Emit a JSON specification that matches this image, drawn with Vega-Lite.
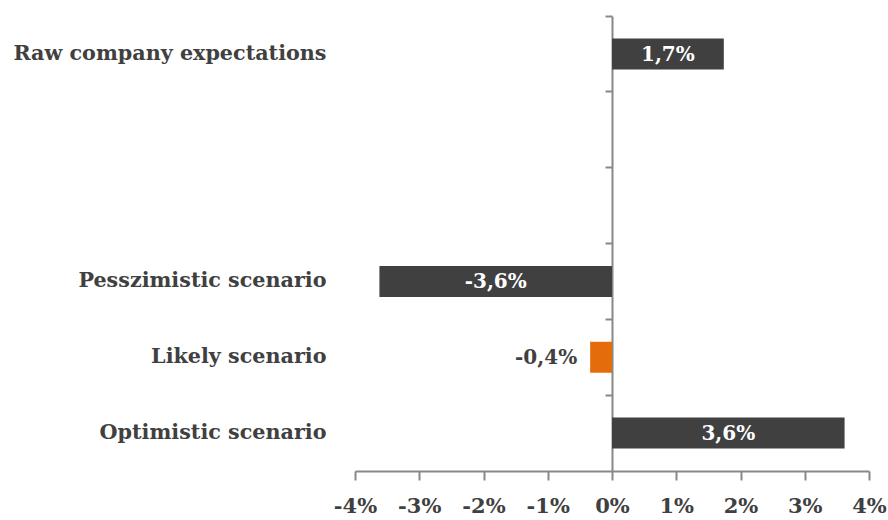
{
  "$schema": "https://vega.github.io/schema/vega-lite/v6.json",
  "width": 514,
  "height": 455,
  "autosize": "none",
  "padding": {"left": 355, "top": 16, "right": 19, "bottom": 49},
  "background": "white",
  "config": {"view": {"stroke": null}, "font": "DejaVu Serif"},
  "data": {"values": [
    {"category": "Raw company expectations", "value": 1.74, "label": "1,7%", "kind": "dark"},
    {"category": "Pesszimistic scenario", "value": -3.62, "label": "-3,6%", "kind": "dark"},
    {"category": "Likely scenario", "value": -0.34, "label": "-0,4%", "kind": "orange"},
    {"category": "Optimistic scenario", "value": 3.62, "label": "3,6%", "kind": "dark"}
  ]},
  "resolve": {"axis": {"y": "independent"}},
  "layer": [
    {
      "mark": {"type": "bar", "size": 31},
      "encoding": {
        "y": {
          "field": "category",
          "type": "nominal",
          "sort": null,
          "scale": {
            "domain": ["Raw company expectations", "blank1", "blank2", "Pesszimistic scenario", "Likely scenario", "Optimistic scenario"],
            "paddingInner": 0,
            "paddingOuter": 0
          },
          "axis": {
            "title": null,
            "orient": "left",
            "domain": false,
            "ticks": false,
            "labelPadding": 29,
            "labelFont": "DejaVu Serif",
            "labelFontWeight": "bold",
            "labelFontSize": 20.7,
            "labelColor": "#404040",
            "labelLimit": 400,
            "labelExpr": "indexof(datum.value, 'blank') == 0 ? '' : datum.value",
            "grid": false
          }
        },
        "x": {
          "field": "value",
          "type": "quantitative",
          "scale": {"domain": [-4, 4], "nice": false},
          "axis": {
            "title": null,
            "values": [-4, -3, -2, -1, 0, 1, 2, 3, 4],
            "labelExpr": "datum.value + '%'",
            "labelOverlap": false,
            "labelFlush": false,
            "labelBound": false,
            "tickSize": 9,
            "tickWidth": 2,
            "tickColor": "#888888",
            "domainColor": "#888888",
            "domainWidth": 2,
            "labelFont": "DejaVu Serif",
            "labelFontWeight": "bold",
            "labelFontSize": 21,
            "labelColor": "#404040",
            "labelPadding": 15,
            "grid": false
          }
        },
        "color": {
          "field": "kind",
          "type": "nominal",
          "scale": {"domain": ["dark", "orange"], "range": ["#404040", "#E46C0A"]},
          "legend": null
        }
      }
    },
    {
      "transform": [
        {"filter": "abs(datum.value) >= 1"},
        {"calculate": "datum.value / 2", "as": "mid"}
      ],
      "mark": {"type": "text", "color": "white", "fontWeight": "bold", "fontSize": 20, "font": "DejaVu Serif", "align": "center", "baseline": "middle", "dy": 1},
      "encoding": {
        "y": {
          "field": "category",
          "type": "nominal",
          "sort": null,
          "axis": {
            "title": null,
            "orient": "left",
            "offset": -257,
            "bandPosition": 0,
            "labels": false,
            "tickSize": 7,
            "tickWidth": 2,
            "tickColor": "#888888",
            "domainColor": "#888888",
            "domainWidth": 2,
            "grid": false
          }
        },
        "x": {"field": "mid", "type": "quantitative"},
        "text": {"field": "label"}
      }
    },
    {
      "transform": [{"filter": "abs(datum.value) < 1"}],
      "mark": {"type": "text", "color": "#404040", "fontWeight": "bold", "fontSize": 20, "font": "DejaVu Serif", "align": "right", "baseline": "middle", "dx": -13, "dy": 1},
      "encoding": {
        "y": {"field": "category", "type": "nominal", "sort": null, "axis": null},
        "x": {"field": "value", "type": "quantitative"},
        "text": {"field": "label"}
      }
    }
  ]
}
